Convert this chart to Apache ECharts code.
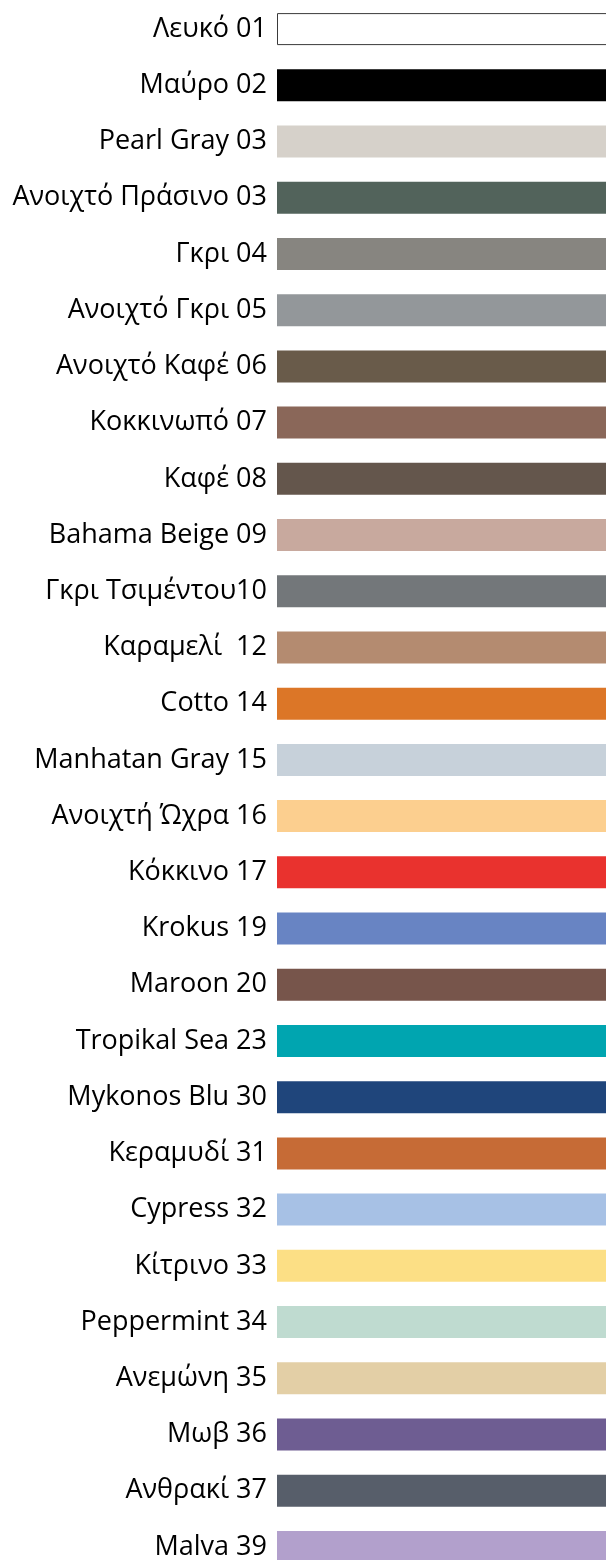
<!DOCTYPE html>
<html>
<head>
<meta charset="utf-8">
<script src="https://cdn.jsdelivr.net/npm/echarts@6/dist/echarts.min.js"></script>
<style>
html,body{margin:0;padding:0;background:#fff;}
#chart{width:606px;height:1560px;}
</style>
</head>
<body>
<div id="chart"></div>
<script>
const categories = [
  "Λευκό 01", "Μαύρο 02", "Pearl Gray 03", "Ανοιχτό Πράσινο 03", "Γκρι 04",
  "Ανοιχτό Γκρι 05", "Ανοιχτό Καφέ 06", "Κοκκινωπό 07", "Καφέ 08", "Bahama Beige 09",
  "Γκρι Τσιμέντου10", "Καραμελί  12", "Cotto 14", "Manhatan Gray 15", "Ανοιχτή Ώχρα 16",
  "Κόκκινο 17", "Krokus 19", "Maroon 20", "Tropikal Sea 23", "Mykonos Blu 30",
  "Κεραμυδί 31", "Cypress 32", "Κίτρινο 33", "Peppermint 34", "Ανεμώνη 35",
  "Μωβ 36", "Ανθρακί 37", "Malva 39"
];
const values = [1,1,1,1,1,1,1,1,1,1,1,1,1,1,1,1,1,1,1,1,1,1,1,1,1,1,1,1];
const colors = [
  "#ffffff", "#000000", "#d6d1ca", "#52635b", "#878580",
  "#93979a", "#695b4a", "#8a6759", "#64564c", "#c8a99e",
  "#73777a", "#b48b70", "#dc7627", "#c7d1da", "#fccf8f",
  "#e9322e", "#6884c3", "#77554b", "#00a5b0", "#1f457b",
  "#c66b36", "#a7c1e5", "#fcdf85", "#bfdbd0", "#e3cfa6",
  "#6e5d92", "#575e6a", "#b2a0cc"
];

const chart = echarts.init(document.getElementById('chart'), null, {renderer: 'canvas'});
chart.setOption({
  animation: false,
  grid: {left: 277, width: 360, top: 1, height: 1574, containLabel: false, outerBoundsMode: 'none'},
  xAxis: {type: 'value', min: 0, max: 1, show: false},
  yAxis: {
    type: 'category',
    data: categories,
    inverse: true,
    axisLine: {show: false},
    axisTick: {show: false},
    splitLine: {show: false},
    axisLabel: {
      margin: 10,
      color: '#000000',
      fontSize: 27,
      fontFamily: 'Open Sans'
    }
  },
  series: [{
    type: 'bar',
    barWidth: 32,
    data: values.map((v, i) => ({
      value: v,
      itemStyle: i === 0
        ? {color: colors[i], borderColor: '#3a3a3a', borderWidth: 1}
        : {color: colors[i]}
    }))
  }]
});
</script>
</body>
</html>
